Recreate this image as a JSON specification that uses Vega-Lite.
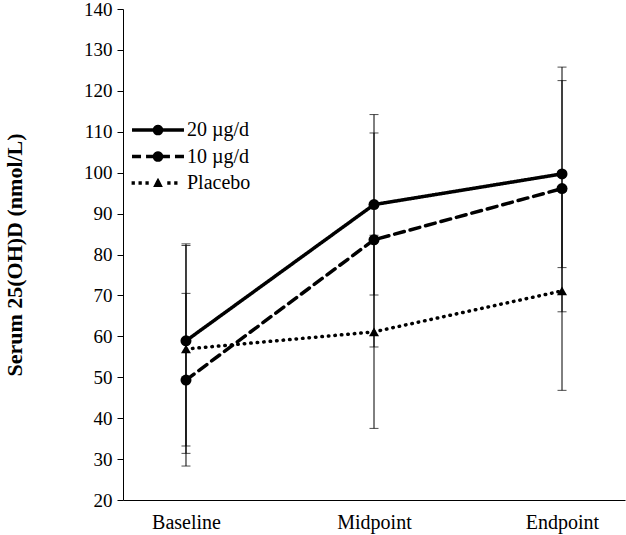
{
  "$schema": "https://vega.github.io/schema/vega-lite/v6.json",
  "width": 502,
  "height": 491,
  "autosize": "none",
  "padding": {"left": 123, "top": 9, "right": 1, "bottom": 35},
  "background": "white",
  "config": {
    "view": {"stroke": null},
    "font": "Liberation Serif",
    "axis": {"grid": false, "domainColor": "black", "tickColor": "black", "labelColor": "black", "titleColor": "black", "labelFont": "Liberation Serif", "titleFont": "Liberation Serif"}
  },
  "data": {
    "values": [
      {"series": "20 µg/d", "time": "Baseline", "mean": 58.9, "lo": 33.2, "hi": 82.6},
      {"series": "20 µg/d", "time": "Midpoint", "mean": 92.2, "lo": 70.1, "hi": 114.2},
      {"series": "20 µg/d", "time": "Endpoint", "mean": 99.7, "lo": 76.8, "hi": 122.5},
      {"series": "10 µg/d", "time": "Baseline", "mean": 49.3, "lo": 28.3, "hi": 70.5},
      {"series": "10 µg/d", "time": "Midpoint", "mean": 83.6, "lo": 57.4, "hi": 109.7},
      {"series": "10 µg/d", "time": "Endpoint", "mean": 96.1, "lo": 66.0, "hi": 125.8},
      {"series": "Placebo", "time": "Baseline", "mean": 56.9, "lo": 31.4, "hi": 82.2},
      {"series": "Placebo", "time": "Midpoint", "mean": 61.1, "lo": 37.5, "hi": 84.7},
      {"series": "Placebo", "time": "Endpoint", "mean": 71.1, "lo": 46.8, "hi": 95.4}
    ]
  },
  "encoding": {
    "x": {
      "field": "time", "type": "nominal", "sort": ["Baseline", "Midpoint", "Endpoint"],
      "scale": {"type": "point", "padding": 0.335},
      "axis": {"title": null, "labelAngle": 0, "ticks": false, "labelPadding": 12, "labelFontSize": 20, "domainWidth": 1}
    }
  },
  "layer": [
    {
      "mark": {"type": "rule", "color": "black", "strokeWidth": 1},
      "encoding": {
        "y": {"field": "lo", "type": "quantitative", "scale": {"domain": [20, 140], "nice": false, "zero": false}},
        "y2": {"field": "hi"}
      }
    },
    {
      "mark": {"type": "tick", "color": "black", "thickness": 1, "size": 9, "orient": "horizontal"},
      "encoding": {"y": {"field": "lo", "type": "quantitative", "scale": {"domain": [20, 140], "nice": false, "zero": false}}}
    },
    {
      "mark": {"type": "tick", "color": "black", "thickness": 1, "size": 9, "orient": "horizontal"},
      "encoding": {"y": {"field": "hi", "type": "quantitative", "scale": {"domain": [20, 140], "nice": false, "zero": false}}}
    },
    {
      "mark": {"type": "line", "color": "black", "strokeWidth": 3.5, "strokeCap": "round"},
      "encoding": {
        "y": {
          "field": "mean", "type": "quantitative",
          "scale": {"domain": [20, 140], "nice": false, "zero": false},
          "axis": {"values": [20, 30, 40, 50, 60, 70, 80, 90, 100, 110, 120, 130, 140], "title": "Serum 25(OH)D (nmol/L)", "titleFontSize": 22, "titleFontWeight": "bold", "titlePadding": 57, "labelFontSize": 19, "tickSize": 6, "labelPadding": 5}
        },
        "strokeDash": {
          "field": "series", "type": "nominal",
          "scale": {"domain": ["20 µg/d", "10 µg/d", "Placebo"], "range": [[1, 0], [10, 6], [0.5, 6]]},
          "legend": {
            "title": null, "orient": "none", "legendX": 25, "legendY": 111, "padding": 0,
            "labelFontSize": 20, "labelFont": "Liberation Serif", "labelColor": "black",
            "symbolSize": 300, "symbolStrokeWidth": 0, "labelOffset": 19, "rowPadding": 6.5,
            "symbolFillColor": "black", "symbolOpacity": 1,
            "encode": {
              "symbols": {
                "update": {
                  "fill": {"value": "black"},
                  "fillOpacity": {"value": 1},
                  "strokeWidth": {"value": 0}
                }
              }
            }
          }
        },
        "detail": {"field": "series"}
      }
    },
    {
      "transform": [{"filter": "datum.series !== 'Placebo'"}],
      "mark": {"type": "point", "filled": true, "color": "black", "opacity": 1, "shape": "circle", "size": 121},
      "encoding": {
        "y": {"field": "mean", "type": "quantitative", "scale": {"domain": [20, 140], "nice": false, "zero": false}}
      }
    },
    {
      "transform": [{"filter": "datum.series === 'Placebo'"}],
      "mark": {"type": "point", "filled": true, "color": "black", "opacity": 1, "shape": "triangle-up", "size": 100},
      "encoding": {
        "y": {"field": "mean", "type": "quantitative", "scale": {"domain": [20, 140], "nice": false, "zero": false}}
      }
    },
    {
      "transform": [{"filter": "false"}],
      "mark": {"type": "point", "filled": true, "color": "black", "opacity": 1, "size": 300, "strokeWidth": 0},
      "encoding": {
        "y": {"field": "mean", "type": "quantitative", "scale": {"domain": [20, 140], "nice": false, "zero": false}},
        "shape": {
          "field": "series", "type": "nominal",
          "scale": {
            "domain": ["20 µg/d", "10 µg/d", "Placebo"],
            "range": [
              "M-3,-0.2L-0.587,-0.2A0.62,0.62 0 0 1 0.587,-0.2L3,-0.2L3,0.2L0.587,0.2A0.62,0.62 0 0 1 -0.587,0.2L-3,0.2Z",
              "M-3,-0.2L-1.96,-0.2L-1.96,0.2L-3,0.2L-3,-0.2L-1.38,-0.2L-0.587,-0.2A0.62,0.62 0 0 1 0.587,-0.2L1.38,-0.2L1.38,0.2L0.587,0.2A0.62,0.62 0 0 1 -0.587,0.2L-1.38,0.2L-1.38,-0.2L1.96,-0.2L3,-0.2L3,0.2L1.96,0.2L1.96,-0.2Z",
              "M-3.05,-0.19L-2.67,-0.19L-2.67,0.19L-3.05,0.19L-3.05,-0.19L-2.25,-0.19L-1.87,-0.19L-1.87,0.19L-2.25,0.19L-2.25,-0.19L-1.45,-0.19L-1.07,-0.19L-1.07,0.19L-1.45,0.19L-1.45,-0.19L-0.225,-0.19L0,-0.62L0.225,-0.19L0.56,0.45L-0.56,0.45L-0.225,-0.19L1.07,-0.19L1.45,-0.19L1.45,0.19L1.07,0.19L1.07,-0.19L1.87,-0.19L2.25,-0.19L2.25,0.19L1.87,0.19L1.87,-0.19Z"
            ]
          },
          "legend": null
        }
      }
    }
  ]
}
